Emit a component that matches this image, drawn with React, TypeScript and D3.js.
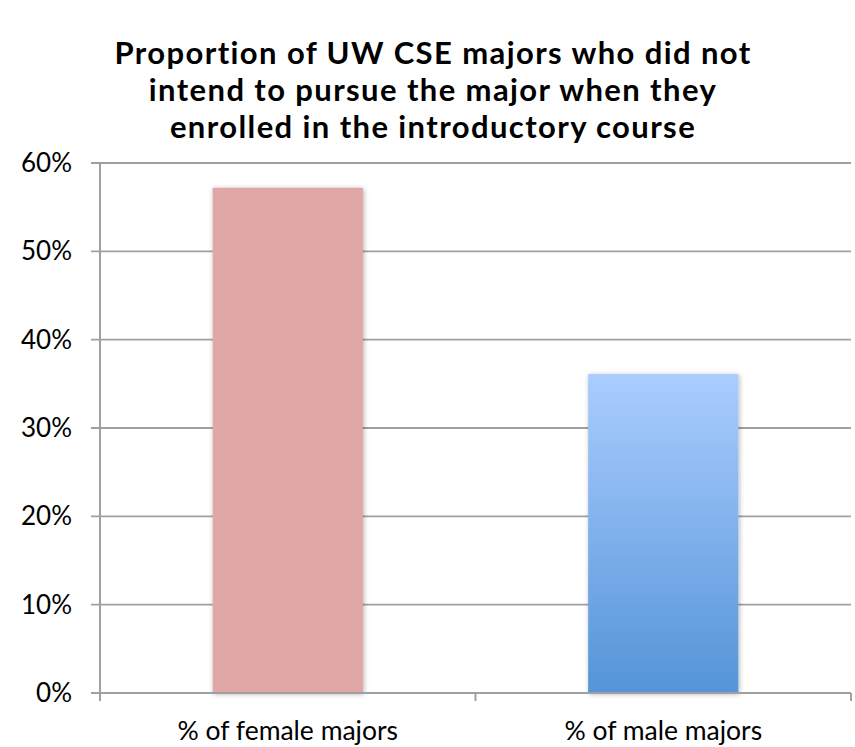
import React from "react";
import * as d3 from "d3";

const categories = ["% of female majors", "% of male majors"];
const values = [0.572, 0.361];
const yTicks = [0, 0.1, 0.2, 0.3, 0.4, 0.5, 0.6];
const titleLines = [
  "Proportion of UW CSE majors who did not",
  "intend to pursue the major when they",
  "enrolled in the introductory course",
];

export default function App() {
  const W = 855, H = 747;
  const left = 100, right = 851, top = 163, bottom = 693;
  const x = d3.scaleBand<string>().domain(categories).range([left, right]).paddingInner(0.6).paddingOuter(0.3);
  const band = d3.scaleBand<string>().domain(categories).range([left, right]);
  const y = d3.scaleLinear().domain([0, 0.6]).range([bottom, top]);
  const fmt = d3.format(".0%");
  const font = "Lato, 'Open Sans', sans-serif";
  return (
    <svg width={W} height={H} style={{ position: "absolute", left: 0, top: 0, background: "#fff" }}>
      <defs>
        <linearGradient id="blueGrad" x1="0" y1="0" x2="0" y2="1">
          <stop offset="0%" stopColor="#aacdfe" />
          <stop offset="100%" stopColor="#5494d8" />
        </linearGradient>
        <filter id="shadow" x="-20%" y="-20%" width="140%" height="140%">
          <feDropShadow dx="1" dy="1" stdDeviation="2.5" floodColor="#000" floodOpacity="0.3" />
        </filter>
      </defs>
      {titleLines.map((t, i) => (
        <text key={i} x={433} y={64 + i * 37} textAnchor="middle" fontFamily={font} fontWeight="bold" fontSize={31} letterSpacing={1.4} fill="#000">
          {t}
        </text>
      ))}
      {yTicks.map((t) => (
        <g key={t}>
          <line x1={left - 9} x2={right} y1={y(t)} y2={y(t)} stroke="#a0a0a0" strokeWidth={1.8} />
          <text x={72} y={y(t) + 9} textAnchor="end" fontFamily={font} fontSize={26} fill="#000">
            {fmt(t)}
          </text>
        </g>
      ))}
      {categories.map((c, i) => (
        <rect
          key={c}
          x={x(c)}
          y={y(values[i])}
          width={x.bandwidth()}
          height={bottom - y(values[i])}
          fill={i === 0 ? "#e0a7a7" : "url(#blueGrad)"}
          filter="url(#shadow)"
        />
      ))}
      <line x1={left} x2={left} y1={top} y2={bottom + 8} stroke="#a0a0a0" strokeWidth={2} />
      <line x1={left} x2={right} y1={bottom} y2={bottom} stroke="#a0a0a0" strokeWidth={2} />
      {categories.map((c) => (
        <line key={c} x1={(band(c) ?? 0) + band.bandwidth()} x2={(band(c) ?? 0) + band.bandwidth()} y1={bottom} y2={bottom + 8} stroke="#a0a0a0" strokeWidth={2} />
      ))}
      {categories.map((c) => (
        <text key={c} x={(band(c) ?? 0) + band.bandwidth() / 2} y={740} textAnchor="middle" fontFamily={font} fontSize={26.5} fill="#000">
          {c}
        </text>
      ))}
    </svg>
  );
}
